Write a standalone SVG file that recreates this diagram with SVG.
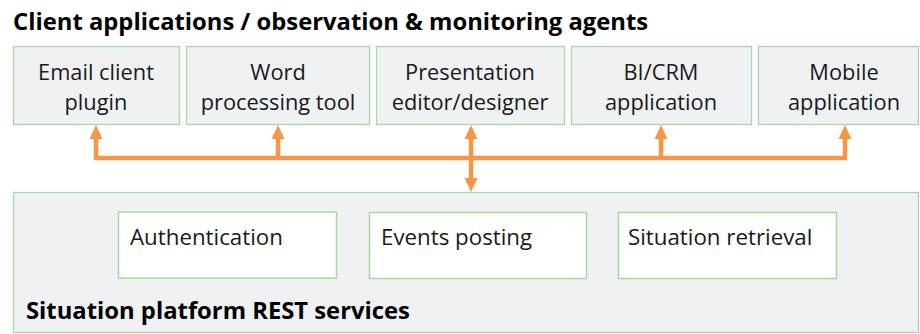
<svg xmlns="http://www.w3.org/2000/svg" width="920" height="334" viewBox="0 0 920 334">
<style>
.t{font-family:"Open Sans","Liberation Sans",sans-serif;fill:#1a1a1a}
.b{font-weight:bold;fill:#000}
.app{fill:#F0F1F3;stroke:#A8D8A8;stroke-width:1.3}
.svc{fill:#FFFFFF;stroke:#A8D8A0;stroke-width:1.5}
.ln{stroke:#F79646;stroke-width:4.5;fill:none}
.ah{fill:#F79646}
</style>
<rect width="920" height="334" fill="#fff"/>
<text class="t b" x="13" y="30" font-size="23.8">Client applications / observation &amp; monitoring agents</text>
<g id="email"><rect class="app" x="13.5" y="46.5" width="166" height="78"/><text class="t" x="96" y="80" font-size="21.8" text-anchor="middle">Email client</text><text class="t" x="96" y="110" font-size="21.8" text-anchor="middle">plugin</text></g>
<g id="word"><rect class="app" x="186.5" y="46.5" width="183" height="78"/><text class="t" x="278" y="80" font-size="21.8" text-anchor="middle">Word</text><text class="t" x="278" y="110" font-size="21.8" text-anchor="middle">processing tool</text></g>
<g id="presentation"><rect class="app" x="376.5" y="46.5" width="188" height="78"/><text class="t" x="470" y="80" font-size="21.8" text-anchor="middle">Presentation</text><text class="t" x="470" y="110" font-size="21.8" text-anchor="middle">editor/designer</text></g>
<g id="bicrm"><rect class="app" x="571.5" y="46.5" width="180" height="78"/><text class="t" x="661" y="80" font-size="21.8" text-anchor="middle">BI/CRM</text><text class="t" x="661" y="110" font-size="21.8" text-anchor="middle">application</text></g>
<g id="mobile"><rect class="app" x="758.5" y="46.5" width="160" height="78"/><text class="t" x="844" y="80" font-size="21.8" text-anchor="middle">Mobile</text><text class="t" x="844" y="110" font-size="21.8" text-anchor="middle">application</text></g>
<g id="platform"><rect class="app" x="13.5" y="192.5" width="905" height="140"/><text class="t b" x="26" y="319" font-size="23.8">Situation platform REST services</text></g>
<g id="auth"><rect class="svc" x="118.5" y="212" width="218" height="66"/><text class="t" x="130" y="245" font-size="22.3">Authentication</text></g>
<g id="events"><rect class="svc" x="369.5" y="212.5" width="217" height="66"/><text class="t" x="381" y="245" font-size="22.3">Events posting</text></g>
<g id="retrieval"><rect class="svc" x="618.5" y="212.5" width="218" height="66"/><text class="t" x="628" y="245" font-size="22.3">Situation retrieval</text></g>
<g id="connectors">
<path class="ln" d="M96 138 V158 H845 V138 M278 158 V138 M661 158 V138 M471 138 V178"/>
<polygon class="ah" points="96,125 89.5,139 102.5,139"/>
<polygon class="ah" points="278,125 271.5,139 284.5,139"/>
<polygon class="ah" points="471,125 464.5,139 477.5,139"/>
<polygon class="ah" points="661,125 654.5,139 667.5,139"/>
<polygon class="ah" points="845,125 838.5,139 851.5,139"/>
<polygon class="ah" points="471,192 464.5,178 477.5,178"/>
</g>
</svg>
